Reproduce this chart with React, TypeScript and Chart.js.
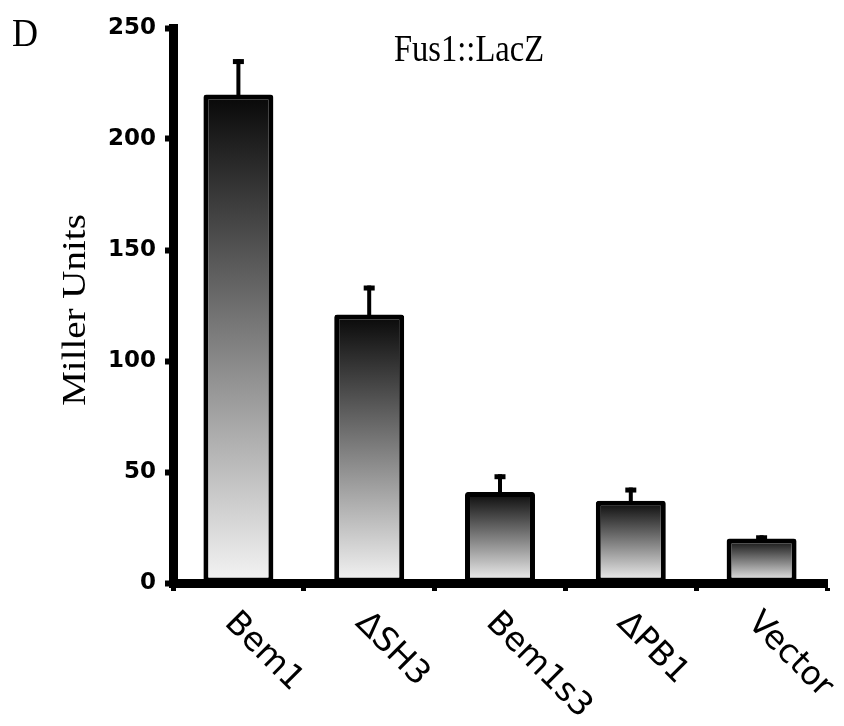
import React, { useEffect, useRef } from "react";
import { Chart, registerables } from "chart.js";
Chart.register(...registerables);

const categories = ["Bem1", "ΔSH3", "Bem1s3", "ΔPB1", "Vector"];
const values = [220, 121, 41, 37, 20];
const errors = [16, 13, 8, 6, 1.5];
const yTicks = [0, 50, 100, 150, 200, 250];
const chartTitle = "Fus1::LacZ";
const yTitle = "Miller Units";
const panelLabel = "D";

const W = 844;
const H = 726;

export default function App() {
  const ref = useRef<HTMLCanvasElement>(null);

  useEffect(() => {
    const canvas = ref.current;
    if (!canvas) return;

    const errorPlugin = {
      id: "errorBars",
      afterDatasetsDraw(chart: any) {
        const ctx = chart.ctx;
        const xs = chart.scales.x;
        const ys = chart.scales.y;
        ctx.save();
        ctx.fillStyle = "#000";
        values.forEach((v, i) => {
          const cx = xs.getPixelForValue(i);
          const top = ys.getPixelForValue(v + errors[i]);
          const base = ys.getPixelForValue(v);
          ctx.fillRect(cx - 2, top, 4, base - top + 3);
          ctx.fillRect(cx - 5.5, top, 11, 5);
        });
        ctx.restore();
      },
    };

    const textPlugin = {
      id: "texts",
      afterDraw(chart: any) {
        const ctx = chart.ctx;
        const xs = chart.scales.x;
        ctx.save();
        ctx.fillStyle = "#000";
        // panel label
        ctx.save();
        ctx.font = "41px 'Liberation Serif'";
        ctx.textAlign = "left";
        ctx.textBaseline = "alphabetic";
        ctx.translate(12, 46);
        ctx.scale(0.88, 1);
        ctx.fillText(panelLabel, 0, 0);
        ctx.restore();
        // chart title
        ctx.save();
        ctx.font = "37px 'Liberation Serif'";
        ctx.textAlign = "center";
        ctx.textBaseline = "alphabetic";
        ctx.translate(469, 61);
        ctx.scale(0.88, 1);
        ctx.fillText(chartTitle, 0, 0);
        ctx.restore();
        // y title
        ctx.save();
        ctx.font = "39px 'Liberation Serif'";
        ctx.textAlign = "center";
        ctx.textBaseline = "alphabetic";
        ctx.translate(85, 310);
        ctx.rotate(-Math.PI / 2);
        ctx.scale(1, 0.88);
        ctx.fillText(yTitle, 0, 0);
        ctx.restore();
        // x labels
        ctx.font = "33px 'DejaVu Sans'";
        ctx.textAlign = "left";
        ctx.textBaseline = "alphabetic";
        categories.forEach((label, i) => {
          const cx = xs.getPixelForValue(i);
          ctx.save();
          ctx.translate(cx - 15, 624);
          ctx.rotate(Math.PI / 4);
          ctx.fillText(label, 0, 0);
          ctx.restore();
        });
        ctx.restore();
      },
    };

    const chart = new Chart(canvas, {
      type: "bar",
      data: {
        labels: categories,
        datasets: [
          {
            data: values,
            backgroundColor: (c: any) => {
              const ch = c.chart;
              const ys = ch.scales && ch.scales.y;
              if (!ch.chartArea || !ys || c.raw === undefined) return "#777";
              const top = ys.getPixelForValue(c.raw);
              const bottom = ys.getPixelForValue(0);
              const g = ch.ctx.createLinearGradient(0, top, 0, bottom);
              g.addColorStop(0, "#080808");
              g.addColorStop(1, "#f4f4f4");
              return g;
            },
            borderColor: "#000",
            borderWidth: 5,
            borderRadius: 3,
            borderSkipped: false,
            barPercentage: 0.535,
            categoryPercentage: 1,
          },
        ],
      },
      options: {
        animation: false,
        responsive: false,
        devicePixelRatio: 1,
        layout: { padding: { top: 28, right: 17, left: 0, bottom: 0 } },
        plugins: {
          legend: { display: false },
          tooltip: { enabled: false },
          title: { display: false },
        },
        scales: {
          x: {
            type: "category",
            offset: true,
            grid: {
              offset: true,
              drawOnChartArea: false,
              drawTicks: true,
              tickLength: 8,
              tickWidth: 5,
              tickColor: "#000",
            },
            border: { display: true, width: 9, color: "#000" },
            ticks: { display: false },
            afterFit: (s: any) => {
              s.height = 143;
            },
          },
          y: {
            min: 0,
            max: 250,
            afterBuildTicks: (s: any) => {
              s.ticks = yTicks.map((v) => ({ value: v }));
            },
            ticks: {
              color: "#000",
              padding: 9,
              font: { family: "'DejaVu Sans'", size: 23, weight: "bold" },
            },
            grid: {
              drawOnChartArea: false,
              drawTicks: true,
              tickLength: 8,
              tickWidth: 6,
              tickColor: "#000",
            },
            border: { display: true, width: 9, color: "#000" },
            afterFit: (s: any) => {
              s.width = 173;
            },
          },
        },
      } as any,
      plugins: [errorPlugin, textPlugin],
    });

    return () => chart.destroy();
  }, []);

  return (
    <div style={{ position: "absolute", left: 0, top: 0, width: W, height: H, background: "#fff" }}>
      <canvas ref={ref} width={W} height={H} style={{ display: "block", width: W, height: H }} />
    </div>
  );
}
